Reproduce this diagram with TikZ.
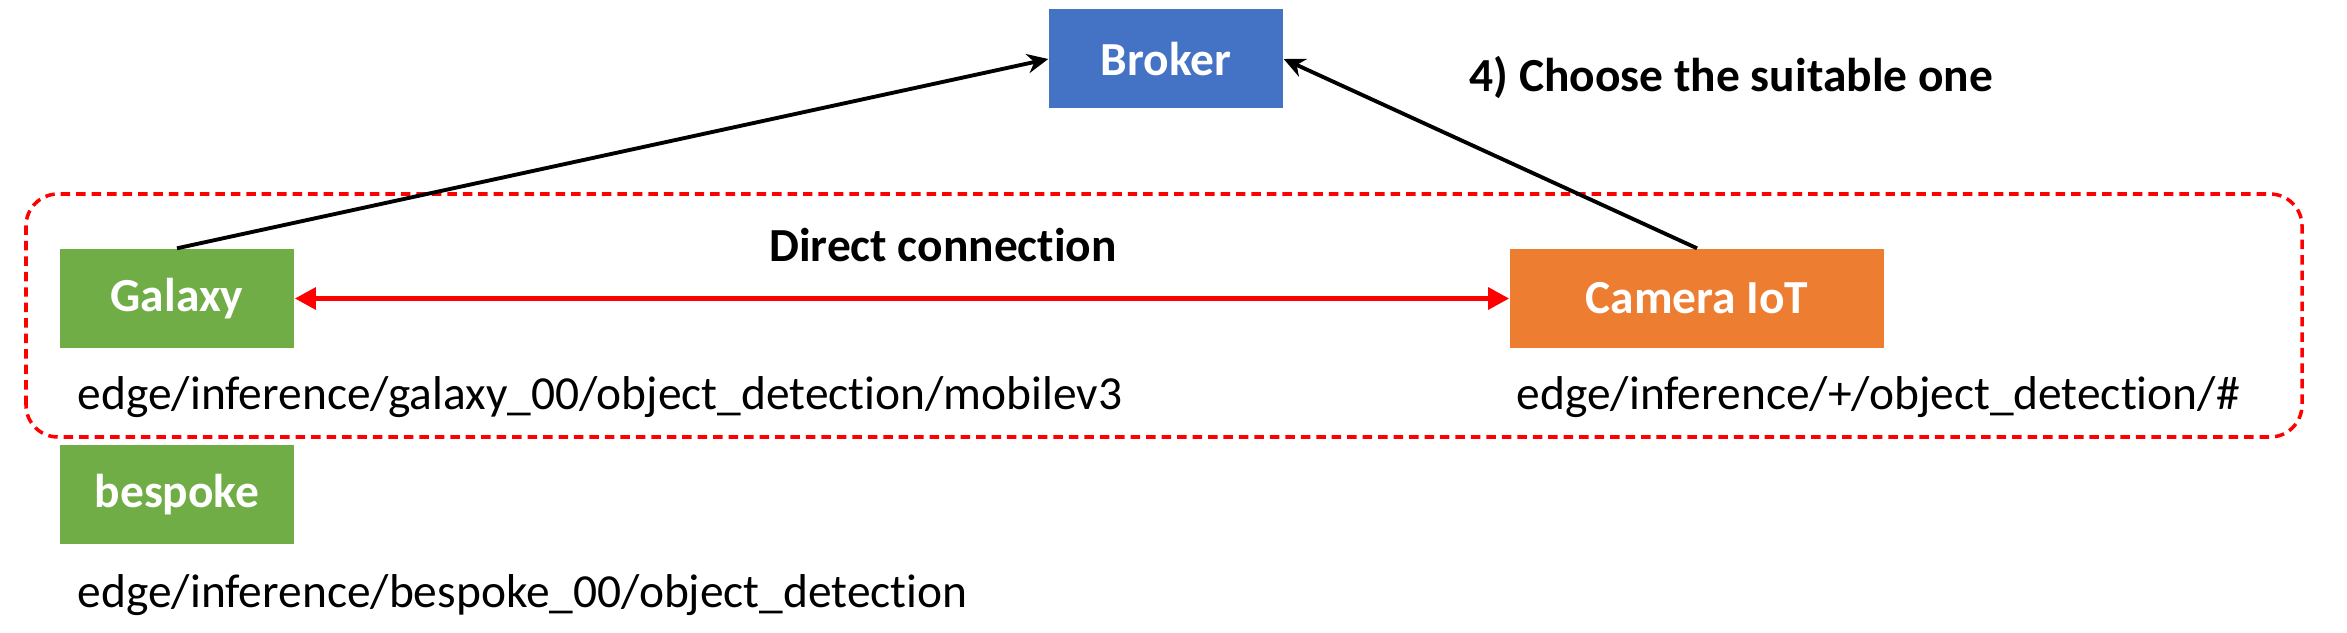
\documentclass[tikz,border=0pt]{standalone}
\usepackage{fontspec}
\setmainfont{Carlito}[Ligatures=NoCommon]
\usetikzlibrary{arrows.meta,positioning}
\definecolor{bleu}{HTML}{4472C4}
\definecolor{vert}{HTML}{70AD47}
\definecolor{orange}{HTML}{ED7D31}
\definecolor{rouge}{HTML}{FF0000}
\begin{document}
\begin{tikzpicture}[
  boite/.style={draw=none,inner sep=0pt,minimum height=.99cm,text=white,font=\fontsize{13.5}{16}\selectfont\bfseries},
  sujet/.style={inner sep=0pt,anchor=base west,font=\fontsize{13.5}{16}\selectfont},
  titre/.style={inner sep=0pt,anchor=base,font=\fontsize{13.5}{16}\selectfont\bfseries}]%
\useasboundingbox (0,0) rectangle (23.47,6.32);%%
%%ZONE
\draw[rounded corners=.32cm,rouge,line width=1pt,dash pattern=on 2.7pt off 1.7pt] (.26,1.95) rectangle (23.02,4.38);%%
%%BOITES
\node[boite,fill=bleu,minimum width=2.34cm] (broker) at (11.66,5.73) {Broker}; %%
\node[boite,fill=vert,minimum width=2.34cm] (galaxy) at (1.77,3.335) {Galaxy}; %%
\node[boite,fill=orange,minimum width=3.74cm] (camera) at (16.97,3.335) {Camera IoT}; %%
\node[boite,fill=vert,minimum width=2.34cm] (bespoke) at (1.77,1.375) {bespoke}; %%
%%TEXTE
\node[titre] (direct) at (9.43,3.70) {Direct connection}; %%
\node[titre,anchor=base west] (choix) at (14.69,5.40) {4) Choose the suitable one}; %%
\node[sujet] (tgalaxy) at (.77,2.22) {edge/inference/galaxy\_00/object\_detection/mobilev3}; %%
\node[sujet] (tcamera) at (15.16,2.22) {edge/inference/+/object\_detection/\#}; %%
\node[sujet] (tbespoke) at (.77,.25) {edge/inference/bespoke\_00/object\_detection}; %%
%%FLECHES
\draw[line width=1.1pt,-{Stealth[length=6pt,width=5.5pt]}] (galaxy.north) -- (broker.west);%%
\draw[line width=1.1pt,-{Stealth[length=6pt,width=5.5pt]}] (camera.north) -- (broker.east);%%
\draw[line width=1.5pt,rouge,{Triangle[length=6pt,width=6pt]}-{Triangle[length=6pt,width=6pt]}] (galaxy.east) -- (camera.west);%%
\end{tikzpicture}
\end{document}
